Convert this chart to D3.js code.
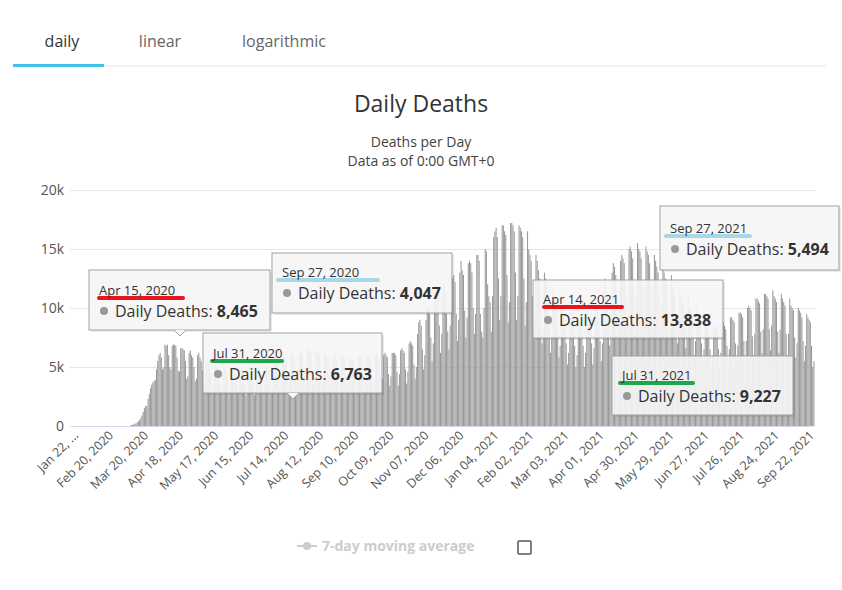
<!DOCTYPE html>
<html><head><meta charset="utf-8">
<script src="https://cdn.jsdelivr.net/npm/d3@7"></script>
<style>body{margin:0;background:#fff;font-family:"Open Sans",sans-serif}</style>
</head><body><svg id="c" width="842" height="590"></svg>
<script>
const startDate = "2020-01-22";
// daily deaths in hundreds, one row per week starting Wed Jan 22, 2020
const dailyHundreds = [
[0,0,0,0,0,0,0],[0,0,0,0,0,0,0],[0,0,0,0,0,0,0],[0,0,0,0,0,0,0],[0,0,0,0,0,0,0],[0,0,0,0,0,0,0],[0,0,0,0,0,0,0],
[1,1,1,2,2,3,4],[5,7,9,12,15,17,17],[23,27,32,35,37,38,39],[48,55,60,62,58,48,50],
[69,68,69,60,50,48,68],[69,69,68,58,47,46,66],[66,65,64,55,40,42,62],[64,60,58,50,38,40,60],
[62,58,55,47,36,38,55],[58,55,52,45,33,35,50],[52,50,48,40,30,30,46],[52,48,46,40,28,30,48],
[50,48,45,38,28,30,46],[48,46,44,36,26,30,45],[50,46,44,36,26,30,48],[52,48,46,38,28,32,50],
[52,50,48,38,28,32,52],[56,54,52,40,30,36,56],[60,58,56,44,32,40,60],[62,60,58,46,34,42,62],
[64,62,60,46,34,42,64],[65,63,60,46,34,42,64],[64,62,60,46,34,40,62],[62,60,58,44,32,40,60],
[62,60,56,44,32,40,58],[60,58,56,42,30,38,58],[58,56,55,42,30,38,58],[60,58,56,42,30,38,58],
[60,58,56,42,30,38,58],[60,58,56,42,32,40,60],[62,60,58,44,34,42,62],[62,62,60,46,34,44,64],
[66,64,62,48,36,46,70],[72,70,68,52,40,50,78],[88,90,85,65,48,60,90],[98,100,95,75,55,70,105],
[110,112,105,85,62,78,118],[120,112,95,80,65,85,125],[125,128,122,95,72,90,130],[140,132,128,98,75,92,138],
[140,138,130,100,78,95,145],[145,140,95,80,75,100,150],[148,120,110,105,80,110,160],[165,168,160,125,90,110,170],
[170,165,162,128,88,105,172],[172,170,165,130,90,110,170],[168,165,160,125,85,105,165],[150,145,140,110,78,92,145],
[140,132,125,100,70,82,130],[125,118,112,88,62,75,115],[110,105,100,80,58,68,100],[100,95,90,70,52,62,92],
[95,90,88,68,50,60,90],[92,88,86,68,50,62,92],[95,92,88,70,52,66,98],[100,98,92,72,55,70,105],
[125,118,112,90,68,88,130],[138,135,128,105,78,98,140],[145,142,138,112,85,105,150],[152,148,142,118,88,110,155],
[150,148,142,118,90,112,152],[148,145,138,115,88,108,145],[140,135,130,108,82,100,138],[130,125,120,100,75,90,128],
[118,115,110,90,70,82,115],[110,108,102,85,66,78,110],[100,98,95,78,60,72,100],[90,88,85,70,55,65,90],
[85,84,80,65,50,60,85],[85,82,80,65,50,62,88],[88,85,82,68,52,65,92],[92,90,88,70,55,68,96],
[96,95,92,72,56,72,100],[102,100,98,76,60,78,108],[108,106,104,80,62,82,112],[112,110,108,82,64,85,115],
[110,108,105,80,62,82,112],[108,105,102,78,60,78,108],[102,100,98,75,58,70,100],[98,96,92,72,55,68,95],
[92,90,88,68,50,55]
];
const yTicks = [0,5000,10000,15000,20000];
const yTickLabels = ["0","5k","10k","15k","20k"];
const xTickLabels = ["Jan 22, ...","Feb 20, 2020","Mar 20, 2020","Apr 18, 2020","May 17, 2020","Jun 15, 2020","Jul 14, 2020","Aug 12, 2020","Sep 10, 2020","Oct 09, 2020","Nov 07, 2020","Dec 06, 2020","Jan 04, 2021","Feb 02, 2021","Mar 03, 2021","Apr 01, 2021","Apr 30, 2021","May 29, 2021","Jun 27, 2021","Jul 26, 2021","Aug 24, 2021","Sep 22, 2021"];
const tabs = ["daily","linear","logarithmic"];
const tooltipDates = ["Apr 15, 2020","Sep 27, 2020","Jul 31, 2020","Apr 14, 2021","Jul 31, 2021","Sep 27, 2021"];
const tooltipValues = [8465,4047,6763,13838,9227,5494];
const tooltipColors = ["#e8141e","#a6d8ea","#1ea84a","#e8141e","#1ea84a","#a6d8ea"];

const values = dailyHundreds.flat().map(v=>v*100);
const svg = d3.select("#c");
const x = d3.scaleLinear().domain([0,609]).range([72,808]);
const y = d3.scaleLinear().domain([0,20000]).range([426,190]);
const bw = x(1)-x(0);

const tabX=[62,160,284];
svg.append("line").attr("x1",13).attr("x2",826).attr("y1",66).attr("y2",66).attr("stroke","#e6e6e6");
svg.append("rect").attr("x",13).attr("y",64).attr("width",91).attr("height",3).attr("fill","#3ec3e8");
tabs.forEach((t,i)=>svg.append("text").attr("x",tabX[i]).attr("y",47).attr("text-anchor","middle")
  .attr("font-size",16).attr("fill",i==0?"#333":"#666").text(t));

svg.append("text").attr("x",421).attr("y",112).attr("text-anchor","middle").attr("font-size",23).attr("fill","#333").text("Daily Deaths");
svg.append("text").attr("x",421).attr("y",147).attr("text-anchor","middle").attr("font-size",14).attr("fill","#444").text("Deaths per Day");
svg.append("text").attr("x",421).attr("y",166).attr("text-anchor","middle").attr("font-size",14).attr("fill","#444").text("Data as of 0:00 GMT+0");

const gy=svg.append("g").attr("transform","translate(70,0)").call(d3.axisLeft(y).tickValues(yTicks).tickSize(-745).tickFormat((d,i)=>yTickLabels[i]));
gy.select(".domain").remove();
gy.selectAll("line").attr("stroke","#e6e6e6");
gy.selectAll("text").attr("font-size",14).attr("fill","#555").attr("x",-6).attr("font-family","Open Sans");

svg.append("g").selectAll("rect").data(values).join("rect")
  .attr("x",(d,i)=>x(i)-bw/2).attr("width",bw*0.85)
  .attr("y",d=>y(d)).attr("height",d=>y(0)-y(d)).attr("fill","#999");

const gx=svg.append("g").attr("transform","translate(0,426)").call(d3.axisBottom(x).tickValues(d3.range(0,610,29)).tickSize(0).tickFormat((d,i)=>xTickLabels[i]));
gx.select(".domain").attr("stroke","#ccd6eb");
gx.selectAll("text").attr("font-size",12.5).attr("fill","#555").attr("font-family","Open Sans")
  .attr("text-anchor","end").attr("transform","rotate(-45)").attr("dx","-0.2em").attr("dy","0.7em");

const boxes=[[89,270,181,60,180],[272,253,180,60,null],[203,333,179,60,293],[533,280,190,58,null],[612,356,181,59,null],[660,206,179,64,null]];
const ul=[[99,183,298],[278,378,280],[212,282,361],[544,622,307],[620,693,383],[666,750,236]];
boxes.forEach((b,i)=>{
  const g=svg.append("g");
  g.append("rect").attr("x",b[0]+2).attr("y",b[1]+2).attr("width",b[2]).attr("height",b[3]).attr("fill","rgba(0,0,0,0.08)");
  g.append("rect").attr("x",b[0]).attr("y",b[1]).attr("width",b[2]).attr("height",b[3]).attr("fill","rgba(247,247,247,0.9)").attr("stroke","#a0a0a0");
  if(b[4]) g.append("path").attr("d",`M${b[4]-6},${b[1]+b[3]}L${b[4]},${b[1]+b[3]+6}L${b[4]+6},${b[1]+b[3]}`).attr("fill","#f7f7f7").attr("stroke","#a0a0a0");
  g.append("line").attr("x1",ul[i][0]).attr("x2",ul[i][1]).attr("y1",ul[i][2]).attr("y2",ul[i][2]).attr("stroke",tooltipColors[i]).attr("stroke-width",4).attr("stroke-linecap","round");
  g.append("text").attr("x",b[0]+10).attr("y",ul[i][2]-3).attr("font-size",13).attr("fill","#333").text(tooltipDates[i]);
  g.append("circle").attr("cx",b[0]+15).attr("cy",ul[i][2]+13).attr("r",4).attr("fill","#999");
  const t=g.append("text").attr("x",b[0]+26).attr("y",ul[i][2]+19).attr("font-size",16).attr("fill","#333");
  t.append("tspan").text("Daily Deaths: ");
  t.append("tspan").attr("font-weight","bold").text(d3.format(",")(tooltipValues[i]));
});

svg.append("line").attr("x1",297).attr("x2",317).attr("y1",546).attr("y2",546).attr("stroke","#ccc").attr("stroke-width",2);
svg.append("circle").attr("cx",307).attr("cy",546).attr("r",4).attr("fill","#ccc");
svg.append("text").attr("x",322).attr("y",551).attr("font-size",14).attr("font-weight","bold").attr("fill","#ccc").text("7-day moving average");
svg.append("rect").attr("x",518).attr("y",541).attr("width",13).attr("height",13).attr("rx",1).attr("fill","none").attr("stroke","#555").attr("stroke-width",1.5);
</script></body></html>
